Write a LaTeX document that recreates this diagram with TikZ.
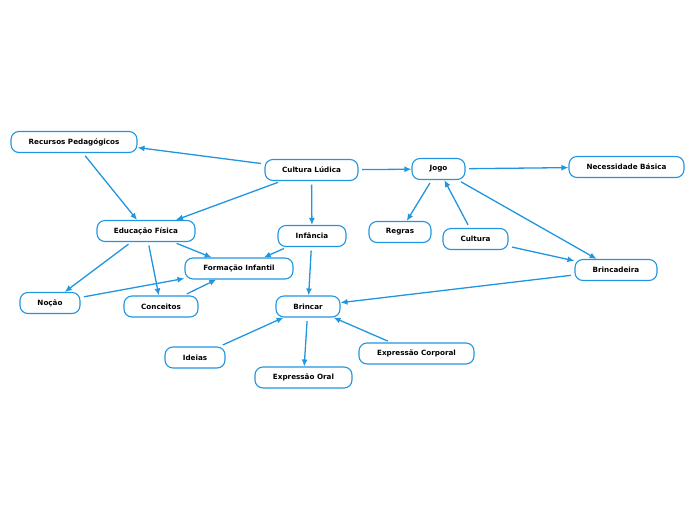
\documentclass[tikz,border=0pt]{standalone}
\usepackage{fontspec}
\setmainfont{DejaVu Sans}
\usetikzlibrary{arrows.meta}
\definecolor{edgeblue}{HTML}{2196E0}
\tikzset{
  topic/.style={draw=edgeblue, line width=1.1pt, fill=white, rounded corners=8pt,
    minimum height=21pt, inner ysep=0pt, inner xsep=2pt, minimum width=#1,
    font=\fontsize{7.2}{8}\selectfont\bfseries, text=black},
  link/.style={draw=edgeblue, line width=1.3pt, -{Latex[length=7pt,width=6pt]}, shorten <=3.5pt}
}
\begin{document}
\begin{tikzpicture}[x=1pt,y=-1pt]
\useasboundingbox (0,0) rectangle (696,520);
\node[topic=126pt] (rec) at (74,142) {Recursos Pedagógicos};
\node[topic=93pt] (cul) at (311.5,170) {Cultura Lúdica};
\node[topic=53pt] (jogo) at (438.5,169) {Jogo};
\node[topic=115pt] (nec) at (626.5,167) {Necessidade Básica};
\node[topic=98pt] (edu) at (146,231) {Educação Física};
\node[topic=68pt] (inf) at (312,236) {Infância};
\node[topic=62pt] (reg) at (400,232) {Regras};
\node[topic=65pt] (cult) at (475.5,239) {Cultura};
\node[topic=82pt] (brc) at (616,270) {Brincadeira};
\node[topic=108pt] (form) at (239,268.5) {Formação Infantil};
\node[topic=60pt] (noc) at (50,303) {Noção};
\node[topic=74pt] (conc) at (161,306.5) {Conceitos};
\node[topic=64pt] (brin) at (308,306.5) {Brincar};
\node[topic=60pt] (ide) at (195,357.5) {Ideias};
\node[topic=115pt] (expc) at (416.5,353.5) {Expressão Corporal};
\node[topic=97pt] (expo) at (303.5,377.5) {Expressão Oral};

\draw[link] (cul) -- (rec.-5);
\draw[link] (cul) -- (edu);
\draw[link] (cul) -- (inf);
\draw[link] (cul) -- (jogo);
\draw[link] (rec) -- (edu);
\draw[link] (jogo) -- (nec);
\draw[link] (jogo) -- (reg);
\draw[link] (cult) -- (jogo);
\draw[link] (jogo) -- (brc);
\draw[link] (cult) -- (brc);
\draw[link] (brc) -- (brin);
\draw[link] (edu) -- (noc);
\draw[link] (edu) -- (conc);
\draw[link] (edu) -- (form);
\draw[link] (inf) -- (form);
\draw[link] (inf) -- (brin);
\draw[link] (noc) -- (form);
\draw[link] (conc) -- (form);
\draw[link] (ide) -- (brin);
\draw[link] (brin) -- (expo);
\draw[link] (expc) -- (brin);
\end{tikzpicture}
\end{document}
